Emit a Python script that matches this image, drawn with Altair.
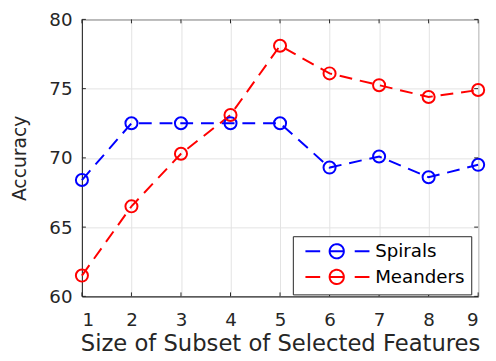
import altair as alt
import pandas as pd

features = [1, 2, 3, 4, 5, 6, 7, 8, 9]
spirals = [68.4, 72.5, 72.5, 72.5, 72.5, 69.3, 70.1, 68.6, 69.5]
meanders = [61.5, 66.5, 70.3, 73.1, 78.1, 76.1, 75.25, 74.4, 74.9]
series = ["Spirals", "Meanders"]
colors = ["#0000ff", "#ff0000"]
y_ticks = [60, 65, 70, 75, 80]

rows = []
for s, vals in zip(series, [spirals, meanders]):
    for f, v in zip(features, vals):
        rows.append({"Features": f, "Accuracy": v, "Series": s})
df = pd.DataFrame(rows)
xt = pd.DataFrame({"t": features})
yt = pd.DataFrame({"t": y_ticks})

W, H = 402, 281
FONT = "DejaVu Sans"
DARK = "#262626"

xs = alt.Scale(domain=[1, 9], nice=False, zero=False)
ys = alt.Scale(domain=[60, 80], nice=False, zero=False)

legend_path = ("M-0.31,0H1.56 M5.94,0H7.81 M2.76,0H4.56 "
               "M4.56,0A0.9,0.9 0 1,1 2.76,0A0.9,0.9 0 1,1 4.56,0")

color = alt.Color(
    "Series:N",
    scale=alt.Scale(domain=series, range=colors),
    sort=series,
    legend=alt.Legend(
        title=None, orient="none", legendX=214, legendY=220,
        symbolType=legend_path, symbolSize=256, symbolStrokeWidth=2,
        symbolDash=[1, 0], symbolFillColor="transparent",
        labelFont=FONT, labelFontSize=18.5, labelColor="#000000",
        labelOffset=59, padding=6, rowPadding=3,
        strokeColor=DARK, fillColor="#ffffff", cornerRadius=0,
    ),
)

x_enc = alt.X("Features:Q", scale=xs,
              axis=alt.Axis(values=features, format="d", title="Size of Subset of Selected Features",
                            ticks=False, labelPadding=15, titlePadding=3,
                            labelFontSize=18.5, titleFontSize=23))
y_enc = alt.Y("Accuracy:Q", scale=ys,
              axis=alt.Axis(values=y_ticks, title="Accuracy", ticks=False,
                            labelPadding=10, titlePadding=20,
                            labelFontSize=18.5, titleFontSize=19))

lines = alt.Chart(df).mark_line(strokeWidth=2, strokeDash=[13, 8]).encode(
    x=x_enc, y=y_enc, color=color, detail="Series:N")
points = alt.Chart(df).mark_point(shape="circle", filled=False, size=150, strokeWidth=2, opacity=1).encode(
    x="Features:Q", y="Accuracy:Q", color=color)

tick_top = alt.Chart(xt).mark_rule(color=DARK, strokeWidth=1).encode(
    x=alt.X("t:Q", scale=xs), y=alt.value(0), y2=alt.value(4))
tick_bot = alt.Chart(xt).mark_rule(color=DARK, strokeWidth=1).encode(
    x=alt.X("t:Q", scale=xs), y=alt.value(H - 4), y2=alt.value(H))
tick_left = alt.Chart(yt).mark_rule(color=DARK, strokeWidth=1).encode(
    y=alt.Y("t:Q", scale=ys), x=alt.value(0), x2=alt.value(4))
tick_right = alt.Chart(yt).mark_rule(color=DARK, strokeWidth=1).encode(
    y=alt.Y("t:Q", scale=ys), x=alt.value(W - 4), x2=alt.value(W))

chart = alt.layer(lines, points, tick_top, tick_bot, tick_left, tick_right).properties(
    width=W, height=H,
    autosize=alt.AutoSizeParams(type="none"),
    padding={"left": 75, "top": 9, "right": 10, "bottom": 62},
).configure_view(
    stroke=DARK, strokeWidth=1
).configure_axis(
    grid=True, gridColor="#e3e3e3", gridWidth=1,
    domainColor=DARK, domainWidth=1,
    labelFont=FONT, titleFont=FONT, labelColor=DARK, titleColor=DARK,
    titleFontWeight="normal",
)

chart.save("out.html", embed_options={"renderer": "svg", "actions": False})
